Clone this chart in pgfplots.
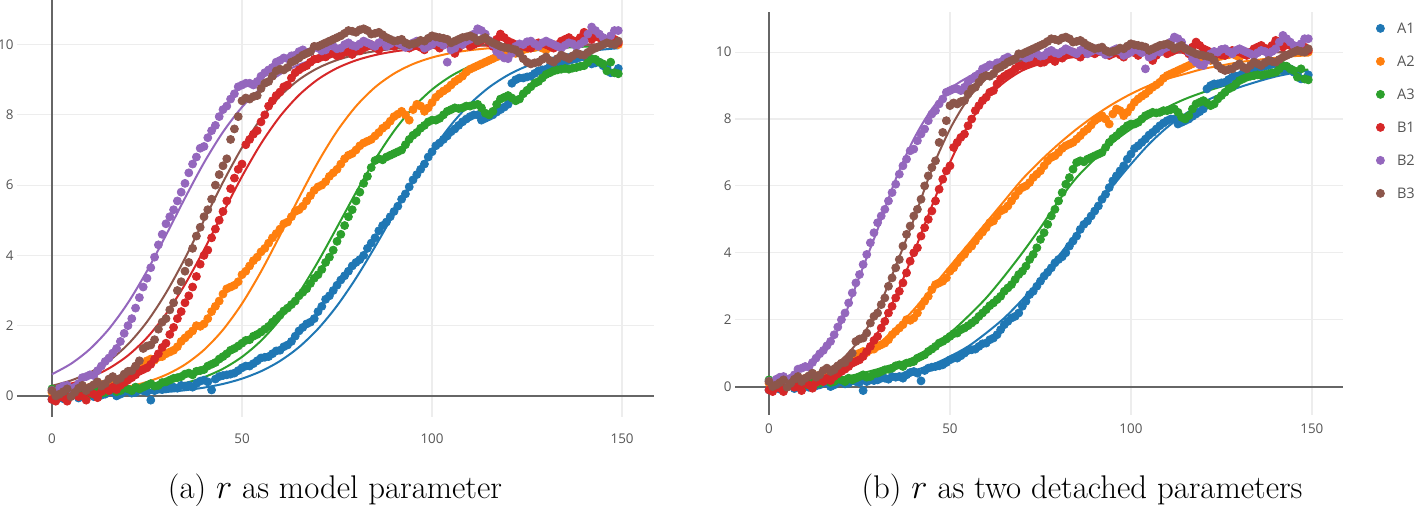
\documentclass[border=0pt]{standalone}
\usepackage{fontspec}
\usepackage{pgfplots}
\usepackage{pgfplotstable}
\pgfplotsset{compat=1.18}
\newfontfamily\osans{Open Sans}

\definecolor{cA1}{HTML}{1F77B4}
\definecolor{cA2}{HTML}{FF7F0E}
\definecolor{cA3}{HTML}{2CA02C}
\definecolor{cB1}{HTML}{D62728}
\definecolor{cB2}{HTML}{9467BD}
\definecolor{cB3}{HTML}{8C564B}
\definecolor{ticktxt}{HTML}{555555}

% measured growth curves, same data in both panels
\pgfplotstableread{
x a1 a2 a3 b1 b2 b3
0 -0.10 0.10 0.20 -0.10 0.16 0.15
1 0.02 0.05 0.12 -0.15 0.10 0.00
2 0.00 0.15 0.10 0.00 0.22 0.05
3 -0.08 0.12 0.18 -0.05 0.28 0.12
4 -0.05 0.05 0.15 -0.15 0.30 0.20
5 0.03 0.18 0.02 0.08 0.20 -0.02
6 0.05 0.20 0.05 0.05 0.25 0.10
7 -0.06 0.10 0.12 -0.02 0.35 0.22
8 0.00 0.15 0.10 0.00 0.52 0.30
9 0.08 0.22 0.00 -0.12 0.55 0.15
10 0.05 0.25 0.05 0.10 0.60 0.25
11 -0.02 0.18 0.14 0.05 0.58 0.32
12 0.10 0.20 0.15 -0.05 0.72 0.40
13 0.02 0.32 0.08 0.12 0.85 0.28
14 0.05 0.30 0.10 0.20 0.98 0.35
15 0.12 0.25 0.18 0.15 1.08 0.48
16 0.10 0.35 0.20 0.25 1.22 0.55
17 0.00 0.40 0.12 0.18 1.35 0.45
18 0.05 0.45 0.15 0.30 1.55 0.50
19 0.12 0.42 0.22 0.38 1.78 0.62
20 0.15 0.50 0.20 0.45 2.00 0.70
21 0.08 0.58 0.15 0.52 2.20 0.72
22 0.10 0.65 0.25 0.60 2.50 0.85
23 0.18 0.75 0.20 0.70 2.80 1.00
24 0.15 0.85 0.25 0.75 3.10 1.35
25 0.12 1.00 0.30 0.80 3.35 1.42
26 -0.12 1.05 0.35 0.90 3.65 1.45
27 0.15 1.02 0.28 1.05 3.95 1.60
28 0.20 1.10 0.30 1.20 4.30 1.90
29 0.18 1.12 0.38 1.38 4.60 2.10
30 0.20 1.20 0.40 1.50 4.90 2.20
31 0.25 1.25 0.45 1.75 5.10 2.45
32 0.25 1.30 0.50 1.95 5.30 2.65
33 0.22 1.40 0.52 2.20 5.55 3.00
34 0.30 1.55 0.55 2.40 5.80 3.25
35 0.28 1.65 0.62 2.65 6.05 3.55
36 0.30 1.75 0.65 2.85 6.35 3.80
37 0.25 1.85 0.60 3.10 6.60 4.20
38 0.35 2.00 0.70 3.40 6.80 4.55
39 0.42 1.98 0.72 3.75 7.05 4.80
40 0.45 2.05 0.75 4.00 7.10 5.10
41 0.40 2.20 0.85 4.15 7.35 5.30
42 0.17 2.40 0.90 4.50 7.55 5.60
43 0.48 2.55 0.95 4.75 7.70 6.00
44 0.55 2.70 1.05 5.00 7.95 6.30
45 0.58 2.90 1.12 5.25 8.15 6.55
46 0.60 3.05 1.20 5.55 8.25 6.75
47 0.62 3.10 1.30 5.90 8.45 7.30
48 0.65 3.15 1.35 6.20 8.60 7.60
49 0.72 3.25 1.42 6.45 8.80 7.95
50 0.80 3.45 1.50 6.60 8.85 8.40
51 0.85 3.55 1.58 7.15 8.90 8.48
52 0.85 3.70 1.60 7.30 8.90 8.45
53 0.92 3.85 1.70 7.45 8.85 8.52
54 1.00 3.95 1.75 7.55 8.95 8.55
55 1.08 4.10 1.82 7.80 9.10 8.75
56 1.10 4.20 1.90 8.00 9.20 8.90
57 1.12 4.35 1.98 8.25 9.28 8.95
58 1.20 4.50 2.10 8.40 9.35 9.10
59 1.28 4.62 2.20 8.55 9.50 9.25
60 1.30 4.75 2.30 8.65 9.55 9.30
61 1.40 4.90 2.42 8.80 9.62 9.28
62 1.45 4.95 2.50 8.85 9.60 9.35
63 1.55 5.10 2.60 9.05 9.68 9.50
64 1.70 5.25 2.70 9.20 9.70 9.55
65 1.85 5.30 2.85 9.28 9.80 9.62
66 1.95 5.40 2.95 9.35 9.85 9.70
67 2.05 5.55 3.05 9.40 9.78 9.75
68 2.10 5.70 3.20 9.50 9.80 9.80
69 2.20 5.85 3.35 9.58 9.92 9.95
70 2.40 5.95 3.45 9.60 9.90 9.95
71 2.55 6.00 3.60 9.65 9.82 10.00
72 2.75 6.10 3.80 9.65 9.85 10.05
73 2.85 6.25 3.95 9.72 9.98 10.10
74 3.00 6.35 4.15 9.75 9.95 10.15
75 3.15 6.45 4.40 9.68 9.88 10.20
76 3.30 6.60 4.60 9.70 9.90 10.25
77 3.42 6.75 4.85 9.78 10.00 10.32
78 3.55 6.85 5.10 9.80 10.05 10.40
79 3.70 6.90 5.30 9.72 9.98 10.38
80 3.80 7.00 5.55 9.85 9.95 10.35
81 3.88 7.12 5.80 9.82 10.02 10.42
82 4.00 7.20 6.05 9.90 10.10 10.45
83 4.20 7.25 6.25 9.95 10.05 10.40
84 4.35 7.30 6.50 10.00 10.00 10.30
85 4.50 7.40 6.70 9.92 9.95 10.32
86 4.70 7.50 6.75 9.85 10.05 10.35
87 4.85 7.62 6.72 9.95 10.12 10.28
88 4.95 7.70 6.80 10.05 9.95 10.20
89 5.10 7.82 6.85 10.00 10.02 10.15
90 5.25 7.95 6.90 9.95 10.10 10.10
91 5.40 8.02 6.95 10.08 10.05 10.12
92 5.60 8.10 7.00 10.10 10.00 10.15
93 5.75 8.00 7.15 9.98 9.92 10.05
94 5.95 7.85 7.30 9.90 9.95 10.00
95 6.15 8.15 7.42 9.95 10.05 10.02
96 6.30 8.30 7.50 10.00 10.10 10.05
97 6.45 8.25 7.62 9.92 10.02 10.12
98 6.60 8.10 7.70 9.85 9.90 10.10
99 6.80 8.20 7.80 9.95 9.95 10.18
100 6.95 8.35 7.85 10.05 10.00 10.25
101 7.12 8.50 7.85 9.98 10.10 10.22
102 7.20 8.60 7.90 9.90 10.05 10.20
103 7.30 8.68 8.00 10.02 9.98 10.18
104 7.40 8.75 8.10 10.10 9.50 10.15
105 7.52 8.85 8.15 9.95 9.85 10.05
106 7.60 8.95 8.20 9.75 9.90 10.10
107 7.70 9.02 8.18 9.90 10.05 10.15
108 7.80 9.10 8.20 10.00 10.00 10.20
109 7.88 9.22 8.25 10.05 10.10 10.22
110 7.95 9.30 8.25 9.95 10.15 10.25
111 8.00 9.35 8.28 10.00 10.30 10.20
112 8.00 9.40 8.30 10.05 10.45 10.10
113 7.85 9.45 8.20 10.12 10.40 10.15
114 7.90 9.50 8.05 10.20 10.30 10.20
115 7.95 9.55 8.00 10.05 10.12 10.10
116 8.00 9.60 8.10 9.95 10.00 10.05
117 8.08 9.65 8.30 10.15 9.80 10.00
118 8.15 9.70 8.45 10.30 9.70 9.95
119 8.22 9.75 8.50 10.20 9.62 9.92
120 8.30 9.80 8.55 10.10 9.60 9.90
121 8.90 9.78 8.48 10.05 9.75 9.88
122 9.00 9.75 8.40 10.00 9.95 9.85
123 9.05 9.80 8.45 9.95 10.02 9.75
124 9.05 9.85 8.60 9.95 10.00 9.60
125 9.08 9.88 8.70 9.92 10.08 9.50
126 9.10 9.90 8.80 9.90 10.10 9.45
127 9.18 9.92 8.90 10.00 10.02 9.48
128 9.25 9.95 8.95 10.05 9.95 9.50
129 9.28 9.90 9.05 10.02 10.05 9.58
130 9.30 9.85 9.15 10.00 10.10 9.65
131 9.38 9.92 9.20 9.95 10.05 9.55
132 9.45 10.00 9.25 9.90 10.00 9.50
133 9.48 9.98 9.28 10.00 9.95 9.60
134 9.50 9.95 9.30 10.10 9.90 9.70
135 9.52 10.00 9.32 10.15 9.98 9.65
136 9.55 10.05 9.30 10.20 10.05 9.60
137 9.58 10.08 9.33 10.12 10.02 9.68
138 9.60 10.10 9.35 10.05 9.95 9.75
139 9.64 10.18 9.38 10.20 10.02 9.72
140 9.65 10.25 9.40 10.35 10.10 9.70
141 9.55 10.28 9.50 10.25 10.30 9.78
142 9.45 10.30 9.60 10.15 10.50 9.85
143 9.48 10.25 9.58 10.22 10.40 9.90
144 9.50 10.20 9.50 10.20 10.30 9.95
145 9.40 10.10 9.45 10.15 10.20 10.00
146 9.35 10.05 9.25 10.10 10.10 10.05
147 9.20 10.08 9.50 10.12 10.25 10.02
148 9.20 10.10 9.20 10.15 10.40 10.00
149 9.32 10.00 9.17 10.05 10.40 10.10
}\growth

\pgfplotsset{
  panel/.style={
    scale only axis,
    anchor=south west,
    axis line style={draw=none},
    xtick={50,100,150}, ytick={2,4,6,8,10},
    extra x ticks={0}, extra y ticks={0},
    extra x tick style={grid=major, major grid style={draw=black!60, line width=1pt}},
    extra y tick style={grid=major, major grid style={draw=black!60, line width=1pt}},
    grid=major,
    major grid style={draw=black!7, line width=0.6pt},
    major tick length=0pt,
    ticklabel style={font=\osans\fontsize{6.7}{8}\selectfont, text=ticktxt},
    /pgf/number format/assume math mode=true,
    yticklabel style={xshift=1.8pt},
  },
  dots/.style={only marks, mark=*, mark size=2pt, mark options={draw=#1, fill=#1}},
  fit/.style={no marks, smooth, line width=1pt, color=#1, forget plot},
}

\begin{document}
\begin{tikzpicture}
\path[use as bounding box] (0,0) rectangle (708pt,253pt);

% (a) shared r
\begin{axis}[panel, at={(8.5pt,44.5pt)}, width=318.5pt, height=208.5pt,
  xmin=-9.2, xmax=158.4, ymin=-0.6, ymax=11.27,
  xticklabel style={yshift=-5pt}]
\addplot[dots=cA1] table[x=x, y=a1] {\growth};
\addplot[dots=cA2] table[x=x, y=a2] {\growth};
\addplot[dots=cA3] table[x=x, y=a3] {\growth};
\addplot[dots=cB1] table[x=x, y=b1] {\growth};
\addplot[dots=cB2] table[x=x, y=b2] {\growth};
\addplot[dots=cB3] table[x=x, y=b3] {\growth};
\addplot[fit=cA1] coordinates {(0,0.012)(10,0.025)(20,0.053)(30,0.112)(35,0.162)(40,0.236)(45,0.341)(50,0.491)(55,0.702)(60,0.994)(65,1.389)(70,1.909)(75,2.565)(80,3.354)(85,4.246)(90,5.190)(95,6.121)(100,6.976)(105,7.714)(110,8.314)(115,8.783)(120,9.134)(125,9.391)(130,9.576)(135,9.706)(140,9.797)(145,9.860)(149,9.896)};
\addplot[fit=cA2] coordinates {(0,0.048)(5,0.074)(10,0.113)(15,0.173)(20,0.263)(25,0.398)(30,0.600)(35,0.893)(40,1.310)(45,1.882)(50,2.627)(55,3.539)(60,4.571)(65,5.641)(70,6.655)(75,7.536)(80,8.246)(85,8.785)(90,9.174)(95,9.447)(100,9.633)(105,9.758)(110,9.841)(115,9.896)(120,9.932)(130,9.971)(140,9.988)(149,9.994)};
\addplot[fit=cA3] coordinates {(0,0.023)(5,0.034)(10,0.051)(15,0.075)(20,0.112)(25,0.166)(30,0.246)(35,0.363)(40,0.532)(45,0.773)(50,1.111)(55,1.571)(60,2.175)(65,2.932)(70,3.822)(75,4.800)(80,5.793)(85,6.726)(90,7.540)(95,8.205)(100,8.721)(105,9.105)(110,9.382)(115,9.577)(120,9.712)(125,9.805)(130,9.869)(135,9.912)(140,9.940)(145,9.960)(149,9.971)};
\addplot[fit=cB1] coordinates {(0,0.232)(5,0.351)(10,0.526)(15,0.784)(20,1.151)(25,1.659)(30,2.333)(35,3.175)(40,4.158)(45,5.212)(50,6.248)(55,7.181)(60,7.957)(65,8.563)(70,9.012)(75,9.331)(80,9.552)(85,9.702)(90,9.804)(95,9.871)(100,9.915)(105,9.944)(110,9.964)(120,9.984)(130,9.993)(140,9.997)(149,9.999)};
\addplot[fit=cB2] coordinates {(0,0.618)(5,0.915)(10,1.335)(15,1.908)(20,2.650)(25,3.555)(30,4.576)(35,5.634)(40,6.638)(45,7.512)(50,8.220)(55,8.760)(60,9.153)(65,9.429)(70,9.619)(75,9.748)(80,9.834)(85,9.891)(90,9.928)(95,9.953)(100,9.969)(110,9.987)(120,9.994)(130,9.998)(149,10.0)};
\addplot[fit=cB3] coordinates {(0,0.288)(5,0.439)(10,0.666)(15,0.998)(20,1.468)(25,2.108)(30,2.932)(35,3.917)(40,5.0)(45,6.083)(50,7.068)(55,7.892)(60,8.532)(65,9.002)(70,9.334)(75,9.560)(80,9.712)(85,9.813)(90,9.879)(95,9.922)(100,9.949)(105,9.967)(110,9.979)(120,9.991)(130,9.996)(149,9.999)};
\end{axis}

% (b) two detached parameters
\begin{axis}[panel, at={(367.5pt,45.5pt)}, width=304pt, height=201.5pt,
  xmin=-9.4, xmax=158.6, ymin=-0.85, ymax=11.2,
  xticklabel style={yshift=-1pt},
  legend style={at={(1,1)}, anchor=north west, xshift=16.5pt, yshift=-5.5pt,
    draw=none, fill=none, inner sep=0pt, row sep=11.5pt,
    font=\osans\fontsize{7.3}{8}\selectfont,
    nodes={inner sep=0pt, text height=5pt, text depth=0pt, text=ticktxt},
    /tikz/every odd column/.append style={column sep=6.3pt}},
  legend cell align=left]
\addplot[dots=cA1] table[x=x, y=a1] {\growth}; \addlegendentry{A1}
\addplot[dots=cA2] table[x=x, y=a2] {\growth}; \addlegendentry{A2}
\addplot[dots=cA3] table[x=x, y=a3] {\growth}; \addlegendentry{A3}
\addplot[dots=cB1] table[x=x, y=b1] {\growth}; \addlegendentry{B1}
\addplot[dots=cB2] table[x=x, y=b2] {\growth}; \addlegendentry{B2}
\addplot[dots=cB3] table[x=x, y=b3] {\growth}; \addlegendentry{B3}
\addplot[fit=cA1] coordinates {(0,0.02)(10,0.05)(20,0.12)(30,0.25)(35,0.35)(40,0.48)(45,0.65)(50,0.9)(55,1.2)(60,1.6)(65,2.05)(70,2.6)(75,3.2)(80,3.9)(85,4.6)(90,5.3)(95,6.0)(100,6.65)(105,7.25)(110,7.75)(115,8.15)(120,8.5)(125,8.75)(130,8.95)(135,9.12)(140,9.27)(145,9.38)(149,9.45)};
\addplot[fit=cA2] coordinates {(0,0.1)(5,0.15)(10,0.25)(15,0.38)(20,0.55)(25,0.85)(30,1.25)(35,1.75)(40,2.3)(45,2.95)(50,3.6)(55,4.25)(60,4.9)(65,5.55)(70,6.2)(75,6.75)(80,7.25)(85,7.7)(90,8.1)(95,8.45)(100,8.75)(105,9.0)(110,9.2)(115,9.35)(120,9.5)(125,9.6)(130,9.7)(135,9.77)(140,9.83)(145,9.88)(149,9.9)};
\addplot[fit=cA3] coordinates {(0,0.05)(5,0.08)(10,0.12)(15,0.18)(20,0.27)(25,0.38)(30,0.52)(35,0.68)(40,0.87)(45,1.2)(50,1.6)(55,2.1)(60,2.65)(65,3.3)(70,4.0)(75,4.75)(80,5.55)(85,6.25)(90,6.8)(95,7.3)(100,7.7)(105,8.05)(110,8.35)(115,8.6)(120,8.8)(125,8.97)(130,9.12)(135,9.24)(140,9.34)(145,9.42)(149,9.48)};
\addplot[fit=cB1] coordinates {(0,0.02)(5,0.05)(10,0.1)(15,0.2)(20,0.4)(25,0.85)(30,1.6)(35,2.7)(40,4.0)(45,5.4)(50,6.7)(55,7.8)(60,8.6)(65,9.1)(70,9.45)(75,9.65)(80,9.78)(85,9.86)(90,9.91)(95,9.94)(100,9.96)(110,9.98)(120,9.99)(149,10.0)};
\addplot[fit=cB2] coordinates {(0,0.15)(5,0.3)(10,0.6)(15,1.1)(20,1.9)(25,3.3)(30,4.7)(35,6.2)(40,7.4)(45,8.3)(50,8.9)(55,9.25)(60,9.5)(65,9.65)(70,9.78)(75,9.86)(80,9.91)(85,9.94)(90,9.96)(100,9.98)(110,9.99)(120,10.0)(149,10.0)};
\addplot[fit=cB3] coordinates {(0,0.05)(5,0.12)(10,0.25)(15,0.45)(20,0.8)(25,1.4)(30,2.3)(35,3.6)(40,5.0)(45,6.5)(50,7.7)(55,8.6)(60,9.2)(65,9.55)(70,9.75)(75,9.86)(80,9.92)(85,9.96)(90,9.98)(100,10.0)(149,10.0)};
\end{axis}

\node[font=\fontsize{16.4}{19}\selectfont] at (167.5pt,8pt) {(a) $r$ as model parameter};
\node[font=\fontsize{16.4}{19}\selectfont] at (541pt,8pt) {(b) $r$ as two detached parameters};
\end{tikzpicture}
\end{document}
